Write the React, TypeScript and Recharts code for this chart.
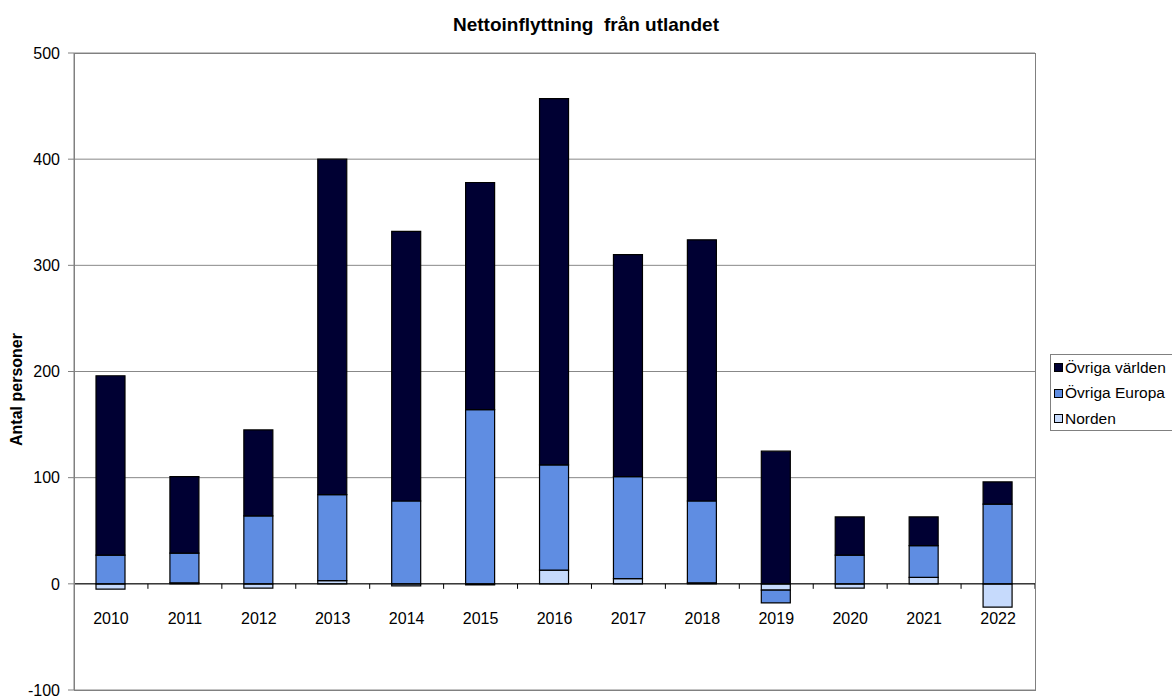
import React from "react";
import {
  BarChart,
  Bar,
  XAxis,
  YAxis,
  CartesianGrid,
  ReferenceLine,
  Label
} from "recharts";

// år och nettoinflyttning per region
const years = ["2010", "2011", "2012", "2013", "2014", "2015", "2016", "2017", "2018", "2019", "2020", "2021", "2022"];
const norden = [-5, 1, -4, 3, -2, -1, 13, 5, 1, -6, -4, 6, -22];
const ovrigaEuropa = [27, 28, 64, 81, 78, 164, 99, 96, 77, -12, 27, 30, 75];
const ovrigaVarlden = [169, 72, 81, 316, 254, 214, 345, 209, 246, 125, 36, 27, 21];
const yTicks = [-100, 0, 100, 200, 300, 400, 500];

const series = [
  { key: "norden", name: "Norden", color: "#c6dafc" },
  { key: "europa", name: "Övriga Europa", color: "#5f8de2" },
  { key: "varlden", name: "Övriga världen", color: "#000033" }
];

const data = years.map((year, i) => ({
  year,
  norden: norden[i],
  europa: ovrigaEuropa[i],
  varlden: ovrigaVarlden[i]
}));

const W = 1172;
const H = 698;
const margin = { top: 53, right: 137, bottom: 7, left: 0 };
const xAxisHeight = 1;
const yAxisWidth = 74;
const plotLeft = margin.left + yAxisWidth;
const plotW = W - margin.left - margin.right - yAxisWidth;
const plotH = H - margin.top - margin.bottom - xAxisHeight;
const yMin = yTicks[0];
const yMax = yTicks[yTicks.length - 1];
const zeroY = margin.top + (yMax / (yMax - yMin)) * plotH;
const band = plotW / years.length;
const font = "'Liberation Sans', Arial, sans-serif";

function YearTick(props: any) {
  const { x, payload } = props;
  return (
    <g>
      <line x1={x + band / 2} x2={x + band / 2} y1={zeroY} y2={zeroY + 5} stroke="#000" />
      <text x={x} y={zeroY + 40} textAnchor="middle" fontSize={16} fill="#000" fontFamily={font}>
        {payload.value}
      </text>
    </g>
  );
}

export default function App() {
  return (
    <div
      style={{
        position: "absolute",
        left: 0,
        top: 0,
        width: W,
        height: H,
        overflow: "hidden",
        background: "#fff",
        fontFamily: font
      }}
    >
      <div
        style={{
          position: "absolute",
          top: 13,
          left: 0,
          width: W,
          textAlign: "center",
          fontWeight: "bold",
          fontSize: 19,
          lineHeight: "24px",
          whiteSpace: "pre"
        }}
      >
        Nettoinflyttning  från utlandet
      </div>

      <BarChart width={W} height={H} data={data} margin={margin} stackOffset="sign" barSize={29}>
        <CartesianGrid vertical={false} stroke="#888" strokeWidth={1} />
        <XAxis
          dataKey="year"
          height={xAxisHeight}
          axisLine={false}
          tickLine={false}
          tick={(p: any) => <YearTick {...p} />}
          interval={0}
        />
        <YAxis
          width={yAxisWidth}
          domain={[yMin, yMax]}
          ticks={yTicks}
          interval={0}
          allowDataOverflow
          stroke="#808080"
          tickSize={6}
          tickMargin={8}
          tick={{ fontSize: 16, fill: "#000", fontFamily: font }}
        >
          <Label
            value="Antal personer"
            angle={-90}
            position="insideLeft"
            offset={16}
            dy={18}
            style={{ fontSize: 16, fontWeight: "bold", fill: "#000", fontFamily: font, textAnchor: "middle" }}
          />
        </YAxis>
        {series.map((s) => (
          <Bar
            key={s.key}
            dataKey={s.key}
            name={s.name}
            stackId="a"
            fill={s.color}
            stroke="#000"
            strokeWidth={1.2}
            isAnimationActive={false}
          />
        ))}
        <ReferenceLine y={0} stroke="#000" strokeWidth={1} />
      </BarChart>

      {/* ram runt ritytan */}
      <div
        style={{
          position: "absolute",
          left: plotLeft,
          top: margin.top,
          width: plotW + 1,
          height: plotH + 1,
          border: "1px solid #808080",
          boxSizing: "border-box",
          pointerEvents: "none"
        }}
      />

      <div
        style={{
          position: "absolute",
          left: 1050,
          top: 354,
          width: 130,
          height: 77,
          border: "1px solid #808080",
          background: "#fff",
          boxSizing: "border-box",
          paddingTop: 0
        }}
      >
        {[...series].reverse().map((s) => (
          <div
            key={s.key}
            style={{ display: "flex", alignItems: "center", height: 25.5, fontSize: 15.5, color: "#000" }}
          >
            <span
              style={{
                display: "inline-block",
                width: 7,
                height: 7,
                marginLeft: 3,
                marginRight: 2,
                background: s.color,
                border: "1px solid #000"
              }}
            />
            {s.name}
          </div>
        ))}
      </div>
    </div>
  );
}
